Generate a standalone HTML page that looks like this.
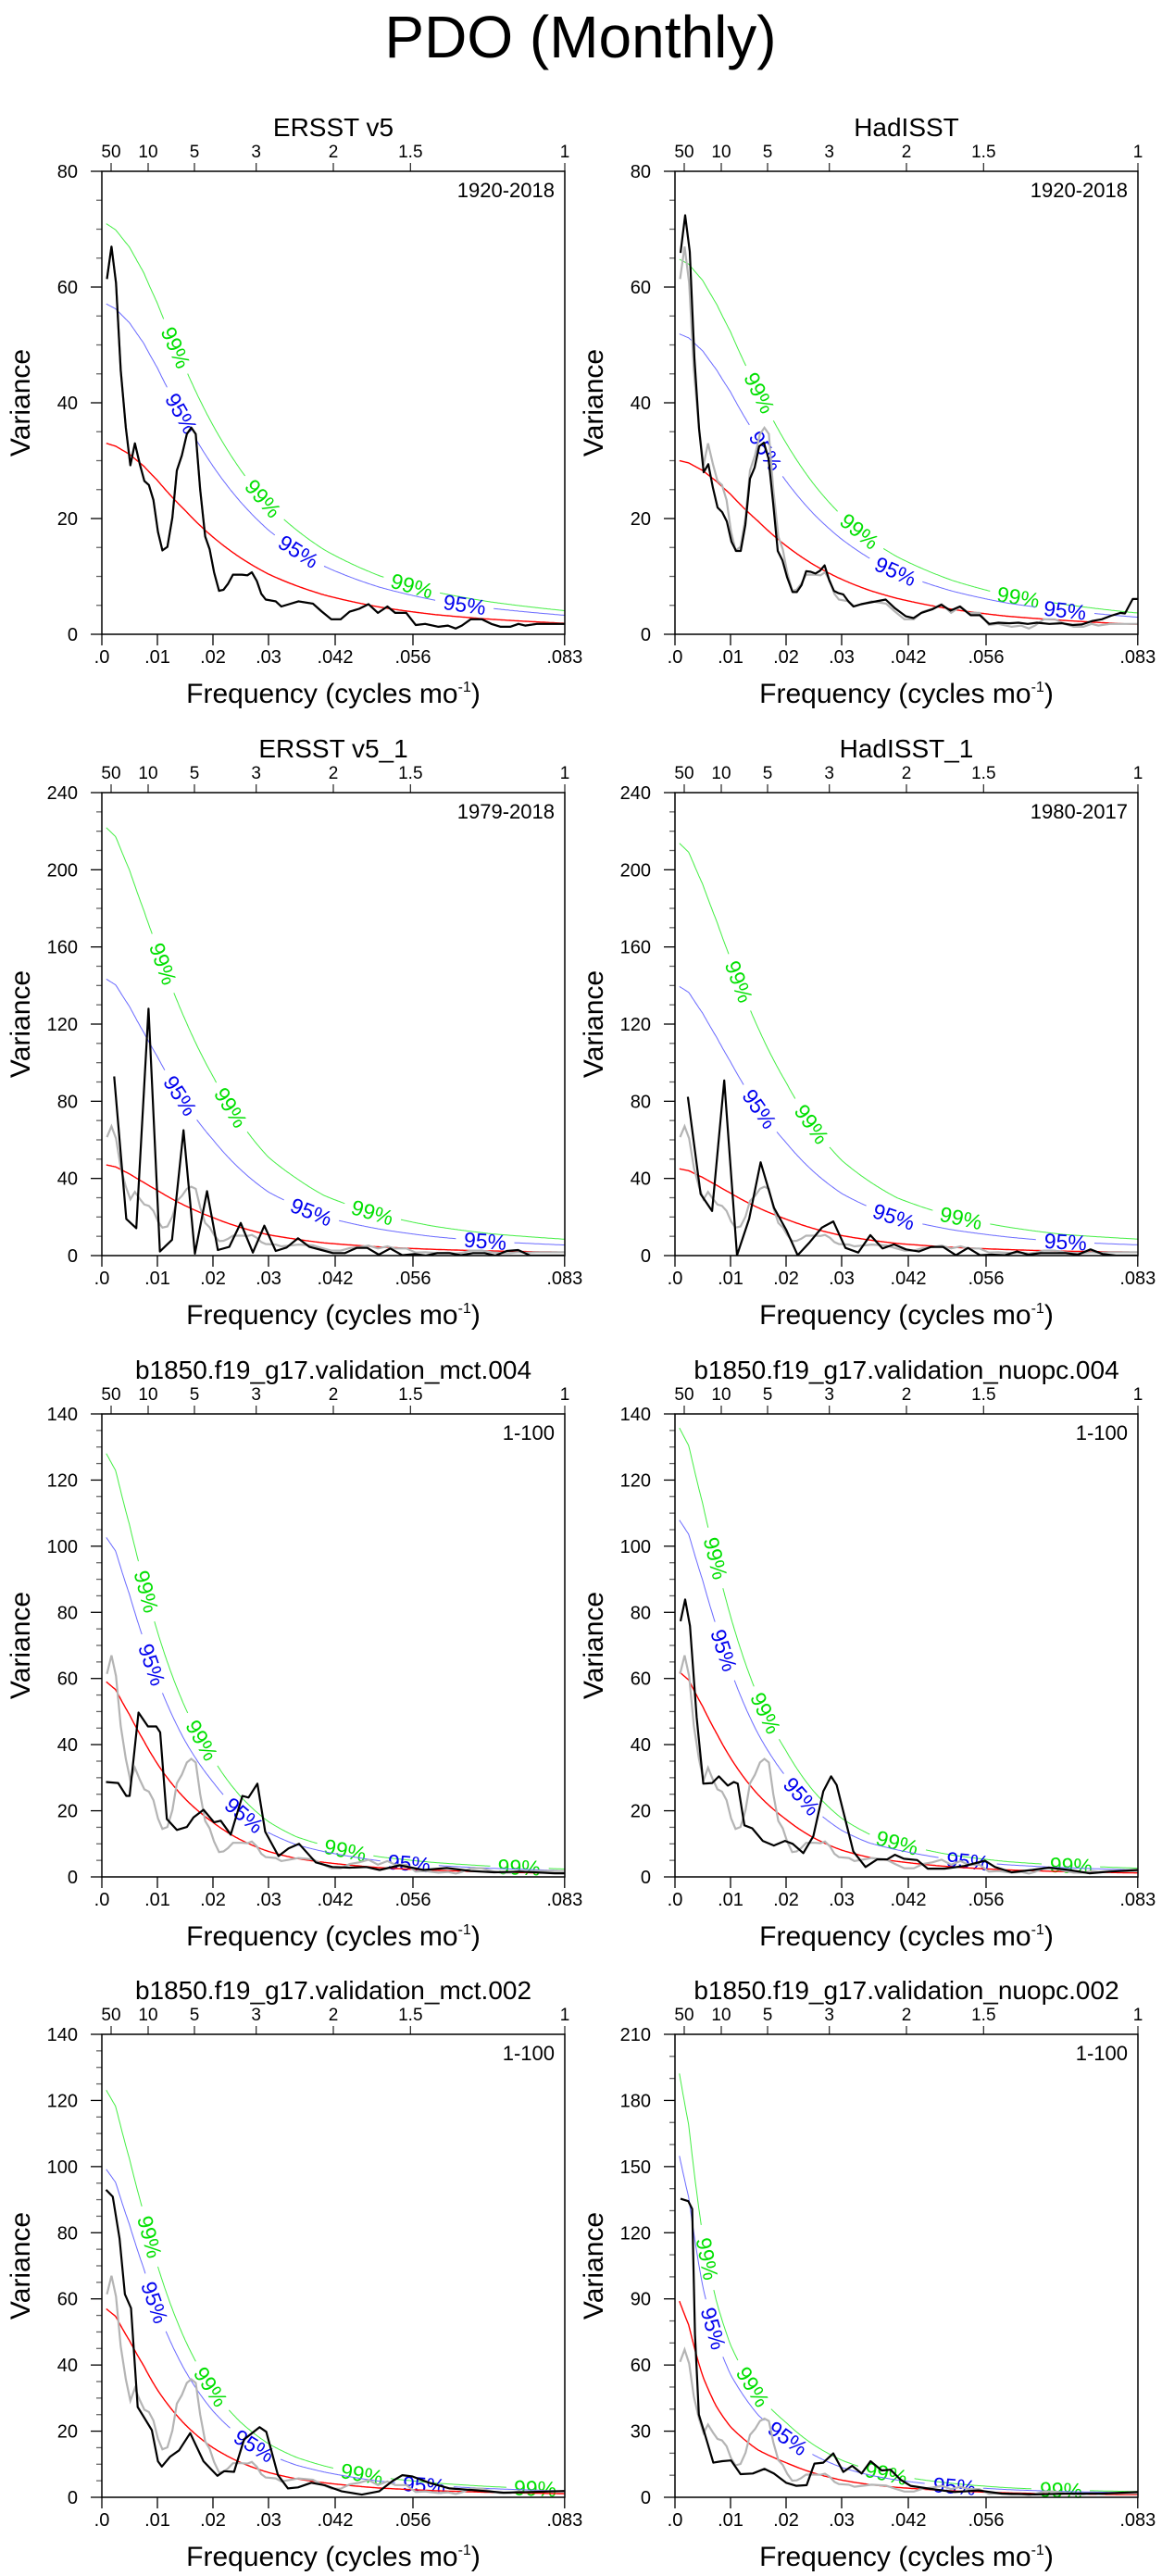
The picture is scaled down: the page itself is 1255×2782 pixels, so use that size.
<!DOCTYPE html>
<html><head><meta charset="utf-8"><title>PDO (Monthly)</title>
<style>
html,body{margin:0;padding:0;background:#fff;}
svg{display:block;font-family:"Liberation Sans",Arial,sans-serif;}
</style></head>
<body>
<svg id="chart" xmlns="http://www.w3.org/2000/svg" width="1255" height="2782" viewBox="0 0 1255 2782">
<text x="627" y="62" font-size="64" text-anchor="middle">PDO (Monthly)</text>
</svg>
<script>
// ---------- data ----------
const redFreq = [0.0008,0.0025,0.005,0.0075,0.01,0.015,0.02,0.025,0.03,0.035,0.04,0.05,0.06,0.07,0.0833];
const topPeriodLabels = ["50","10","5","3","2","1.5","1"];
const topPeriodYears = [50,10,5,3,2,1.5,1];
const bottomTickFreq = [0,0.01,0.02,0.03,0.042,0.056,0.0833];
const bottomTickLabels = [".0",".01",".02",".03",".042",".056",".083"];

const ersstFreq = [.00092,.00174,.00255,.0034,.00432,.00513,.00595,.00684,.00765,.00847,.00928,.0101,.0109,.0118,.0127,.0135,.0144,.0153,.0161,.0169,.0177,.0186,.0194,.0202,.0211,.0219,.0227,.0236,.0252,.0262,.027,.0279,.0287,.0295,.0313,.0323,.0337,.0354,.038,.0395,.0413,.043,.0446,.0463,.048,.0497,.0514,.0528,.0548,.0565,.0582,.0606,.0623,.0637,.0648,.0664,.0684,.0701,.0718,.0735,.075,.0762,.0783,.0833];
const ersstVar = [61.4,67,60.7,45.6,35.7,29.2,33,29.4,26.5,25.8,23.2,17.7,14.5,15.1,20.2,28.3,30.9,34.6,35.7,34.6,25,16.9,14.7,10.7,7.5,7.7,8.7,10.3,10.3,10.2,10.7,9.2,7,6,5.7,4.8,5.2,5.7,5.3,4,2.6,2.6,3.9,4.4,5.2,3.7,4.8,3.7,3.7,1.6,1.8,1.3,1.5,1,1.5,2.6,2.6,1.8,1.3,1.3,1.8,1.5,1.8,1.8];

const hadFreq = [.001,.00183,.00267,.0035,.00433,.00517,.006,.00683,.00767,.0085,.00933,.01017,.011,.01183,.01267,.0135,.01433,.01517,.016,.01683,.01767,.0185,.01933,.02017,.02117,.02194,.02278,.02361,.02444,.02528,.02611,.02694,.02778,.02861,.02944,.03028,.03128,.03211,.0335,.03572,.03794,.0396,.04156,.04294,.04433,.04628,.04794,.04961,.05128,.05322,.05489,.05656,.05822,.06017,.06183,.0635,.06517,.06739,.06961,.07156,.07322,.07517,.07683,.0785,.08017,.081,.0824,.0833];
const hadVar = [65.9,72.4,66.1,47.7,35.5,28,29.4,25.3,21.9,21.1,19.5,16,14.4,14.4,18.9,26.9,28.8,32.5,33.1,30.4,22.7,14.4,12.8,9.9,7.3,7.3,8.5,10.9,10.8,10.5,11,11.9,9.3,7.5,7.1,6.9,5.6,4.8,5.2,5.6,6,4.5,3.1,2.8,3.7,4.3,5.1,4.1,4.8,3.3,3.3,1.8,2,1.9,2,1.8,2,1.8,1.9,1.6,1.7,2.3,2.6,3.2,3.7,3.6,6.1,6.1];

const ersst1Freq = [.00222,.0044,.0062,.0084,.01045,.01263,.0147,.01675,.01893,.02088,.02293,.025,.02718,.02925,.0313,.03325,.0353,.03737,.03955,.0416,.04378,.04585,.04778,.04985,.05192,.05408,.05627,.05833,.0604,.06258,.06463,.06682,.06888,.07082,.07288,.07493,.07712,.0832];
const ersst1Var = [92.9,19,14.2,128,2.1,8.2,65,1,33.4,2.9,4.5,16.9,1.6,15.5,2.4,4.2,9,4.5,2.9,1.3,1.3,4,4,0.5,3.7,0.2,0.8,0,1.3,1.3,0.2,1.3,1.3,0,2.4,2.9,0,0];

const had1Freq = [.00232,.00462,.00668,.00887,.01117,.01335,.01542,.01783,.02002,.02208,.02425,.02643,.0285,.03068,.03298,.03517,.03735,.03942,.04158,.0439,.04608,.04825,.05057,.05275,.05492,.05698,.05942,.06158,.06365,.06583,.06813,.07032,.0725,.0748,.07698,.07942,.0833];
const had1Var = [82.3,31.9,23.1,90.8,0.2,19,48.4,24.7,13.4,0.2,6.9,14.5,17.7,4,1.6,10.6,3.7,5.8,3.2,2.1,4.5,4.5,0.2,4,0.2,0.5,0.2,2.1,0.5,1.3,1.3,1.3,0.5,3.2,0.8,0,0];

const mct004Freq = [.00075,.00293,.0044,.005,.0066,.0083,.0098,.0105,.0117,.0135,.0153,.0165,.0183,.0202,.0214,.0232,.0253,.0264,.028,.0294,.0318,.0336,.0355,.0385,.0415,.0446,.0476,.05,.0536,.0579,.0621,.0664,.0706,.0755,.0815,.0833];
const mct004Var = [28.7,28.4,24.5,24.5,49.7,45.5,45.5,43.7,17.5,14.2,15.1,18,20.3,16.5,17,12.8,24.5,24,28.2,13.7,6.3,8.6,10,4.4,3,2.8,3,2.1,3.5,2.1,2.7,1.8,1.4,1.6,1.1,1.1];

const nuopc004Freq = [.001,.00184,.0027,.0039,.0051,.0067,.0079,.0095,.0106,.0113,.0125,.0139,.0158,.0178,.0198,.0212,.0231,.0249,.0267,.0281,.0291,.0321,.0343,.0364,.0382,.0396,.0412,.0436,.0455,.0485,.0521,.0558,.0576,.0606,.0643,.0673,.0709,.0746,.0782,.0833];
const nuopc004Var = [77.3,83.9,75.9,48.3,28.2,28.4,30.4,27.6,28.7,28.2,15.6,14.7,10.9,9.5,10.9,10,7.2,12.3,25.9,30.4,27.8,7.7,3,5.3,5.3,6.7,5.5,5.1,2.5,2.5,3.3,4.9,3,1.4,2.1,2.8,2.1,1.1,1.6,2.1];

const mct002Freq = [.00075,.00197,.00318,.00415,.00525,.00645,.0078,.009,.0101,.0108,.0123,.0139,.0159,.0183,.0208,.022,.0238,.0256,.0284,.0296,.0317,.0335,.0353,.0377,.0402,.0432,.0468,.0499,.0523,.0541,.0559,.0589,.0626,.0674,.0723,.0771,.0833];
const mct002Var = [93,90.9,78.3,61.4,57.2,27.3,23.6,20.3,10.9,9.3,12.3,14.2,19.4,10.9,6.5,7.9,7.7,17.5,21.2,19.8,6.7,2.7,3,4.4,3.6,1.8,0.8,1.8,4.9,6.7,6.3,4.4,2.7,2.1,1.4,1.6,1.9];

const nuopc002Freq = [.001,.0024,.0031,.0036,.0043,.0055,.0069,.0085,.0101,.0118,.014,.0161,.0178,.02,.0218,.0237,.0251,.0267,.0285,.0303,.0319,.0336,.0352,.0372,.0388,.0406,.0424,.0461,.0503,.0546,.0588,.0648,.0709,.077,.0833];
const nuopc002Var = [135.4,134.3,130.8,73.9,37.5,27.6,15.7,16.4,16.7,10.5,10.8,12.9,10.8,6.6,5.2,5.5,15.3,15.7,19.9,11.5,14.3,10.8,16.4,12.2,12.5,8,5.2,3.8,2.4,3.1,1.7,1.3,1.7,1.7,2.4];

// red-noise (AR1) spectra, read at redFreq
const redErsst = [33,32.5,31.1,29.1,26.6,21.4,16.8,13.2,10.4,8.4,6.8,4.7,3.4,2.6,1.9];
const redHad = [30,29.6,28.3,26.4,24.2,19.5,15.3,12,9.5,7.6,6.2,4.3,3.1,2.4,1.7];
const redErsst1 = [47,46,42.3,38,33.8,25.9,19.7,14.6,10.8,8.5,6.6,4.5,3.2,2.4,1.8];
const redHad1 = [45,44,40.5,36.5,32.4,24.8,18.9,14,10.4,8.1,6.3,4.3,3.1,2.3,1.8];
const redMct004 = [59,56.6,49,41.3,34.2,23.6,16.5,11.2,7.7,5.6,4.4,2.8,2,1.5,1.1];
const redNuopc004 = [62,59.5,51.5,43.4,36,24.8,17.4,11.8,8.1,5.9,4.7,3,2.1,1.6,1.2];
const redMct002 = [57,54.7,47.3,39.9,32.5,22,15,10.5,7.5,5.6,4.4,2.8,2,1.5,1.1];
const redNuopc002 = [89,78,55,41,32,21.4,15.7,11,7.8,5.8,4.5,2.9,2,1.5,1.2];
// confidence multipliers [95%, 99%]
const ciErsst = [1.73,2.15];
const ciHad = [1.73,2.16];
const ciErsst1 = [3.05,4.72];
const ciHad1 = [3.1,4.75];
const ciMct004 = [1.74,2.17];
const ciNuopc004 = [1.74,2.19];
const ciMct002 = [1.74,2.16];
const ciNuopc002 = [1.74,2.16];
// label positions (frequency) along the confidence curves
const lab99Ersst = [.0133,.029,.0558];   const lab95Ersst = [.0143,.0354,.0653];
const lab99Had = [.0152,.0332,.0618];    const lab95Had = [.0163,.0397,.0702];
const lab99Ersst1 = [.011,.0232,.0487];  const lab95Ersst1 = [.0141,.0377,.069];
const lab99Had1 = [.0115,.0246,.0515];   const lab95Had1 = [.0152,.0394,.0703];
const lab99Mct004 = [.008,.018,.0438,.0751]; const lab95Mct004 = [.009,.0256,.0553];
const lab99Nuopc004 = [.0073,.0163,.04,.0713]; const lab95Nuopc004 = [.0088,.0228,.0527];
const lab99Mct002 = [.0086,.0196,.0468,.078]; const lab95Mct002 = [.0095,.0274,.058];
const lab99Nuopc002 = [.0058,.014,.038,.0695]; const lab95Nuopc002 = [.0069,.0203,.0503];

const panels = [
 {name:"ersst-v5",title:"ERSST v5",period:"1920-2018",col:0,row:0,ymax:80,major:20,minor:5,f:ersstFreq,v:ersstVar,red:redErsst,ci:ciErsst,l99:lab99Ersst,l95:lab95Ersst},
 {name:"hadisst",title:"HadISST",period:"1920-2018",col:1,row:0,ymax:80,major:20,minor:5,f:hadFreq,v:hadVar,red:redHad,ci:ciHad,l99:lab99Had,l95:lab95Had},
 {name:"ersst-v5-1",title:"ERSST v5_1",period:"1979-2018",col:0,row:1,ymax:240,major:40,minor:10,f:ersst1Freq,v:ersst1Var,red:redErsst1,ci:ciErsst1,l99:lab99Ersst1,l95:lab95Ersst1},
 {name:"hadisst-1",title:"HadISST_1",period:"1980-2017",col:1,row:1,ymax:240,major:40,minor:10,f:had1Freq,v:had1Var,red:redHad1,ci:ciHad1,l99:lab99Had1,l95:lab95Had1},
 {name:"mct-004",title:"b1850.f19_g17.validation_mct.004",period:"1-100",col:0,row:2,ymax:140,major:20,minor:5,f:mct004Freq,v:mct004Var,red:redMct004,ci:ciMct004,l99:lab99Mct004,l95:lab95Mct004},
 {name:"nuopc-004",title:"b1850.f19_g17.validation_nuopc.004",period:"1-100",col:1,row:2,ymax:140,major:20,minor:5,f:nuopc004Freq,v:nuopc004Var,red:redNuopc004,ci:ciNuopc004,l99:lab99Nuopc004,l95:lab95Nuopc004},
 {name:"mct-002",title:"b1850.f19_g17.validation_mct.002",period:"1-100",col:0,row:3,ymax:140,major:20,minor:5,f:mct002Freq,v:mct002Var,red:redMct002,ci:ciMct002,l99:lab99Mct002,l95:lab95Mct002},
 {name:"nuopc-002",title:"b1850.f19_g17.validation_nuopc.002",period:"1-100",col:1,row:3,ymax:210,major:30,minor:10,f:nuopc002Freq,v:nuopc002Var,red:redNuopc002,ci:ciNuopc002,l99:lab99Nuopc002,l95:lab95Nuopc002}
];

// ---------- layout ----------
const colLeft = [110,729];
const rowTop = [185,856,1527,2197];
const W = 500, H = 500, FMAX = 1/12;
const NS = "http://www.w3.org/2000/svg";
const svg = document.getElementById("chart");

function mk(tag, attrs, parent){
  const e = document.createElementNS(NS, tag);
  for (const k in attrs) e.setAttribute(k, attrs[k]);
  (parent||svg).appendChild(e);
  return e;
}
function interpRed(red, f){
  if (f <= redFreq[0]) return red[0];
  for (let i=1;i<redFreq.length;i++){
    if (f <= redFreq[i]){
      const t=(f-redFreq[i-1])/(redFreq[i]-redFreq[i-1]);
      return Math.exp(Math.log(red[i-1])*(1-t)+Math.log(red[i])*t);
    }
  }
  return red[red.length-1];
}

panels.forEach(p=>{
  const L = colLeft[p.col], T = rowTop[p.row];
  const xs = f => L + f/FMAX*W;
  const ys = v => T + H - v/p.ymax*H;
  const g = mk("g", {});
  
  

  const cp = mk("clipPath", {id:"clip-"+p.name}, g);
  mk("rect", {x:L, y:T, width:W, height:H}, cp);

  // title
  const tt = mk("text", {x:L+W/2, y:T-38, "font-size":28, "text-anchor":"middle"}, g);
  tt.textContent = p.title;
  
  

  // period label
  const pl = mk("text", {x:L+W-11, y:T+28, "font-size":22, "text-anchor":"end"}, g);
  pl.textContent = p.period;
  
  

  // y ticks
  for (let v=0; v<=p.ymax+1e-9; v+=p.minor){
    const isMajor = Math.abs(v/p.major - Math.round(v/p.major))<1e-6;
    const tk = mk("line", {x1:L-(isMajor?12:6), x2:L, y1:ys(v), y2:ys(v), stroke:isMajor?"#000":"#666", "stroke-width":1.3}, g);
    
    
    if (isMajor){
      const tl = mk("text", {x:L-26, y:ys(v)+7, "font-size":20, "text-anchor":"end"}, g);
      tl.textContent = String(Math.round(v));
      
      
    }
  }
  // bottom ticks
  bottomTickFreq.forEach((f,i)=>{
    const tk = mk("line", {x1:xs(f), x2:xs(f), y1:T+H, y2:T+H+12, stroke:"#000", "stroke-width":1.3}, g);
    
    
    const tl = mk("text", {x:xs(f), y:T+H+31, "font-size":20, "text-anchor":"middle"}, g);
    tl.textContent = bottomTickLabels[i];
    
    
  });
  // top period ticks
  topPeriodYears.forEach((yr,i)=>{
    const f = 1/(12*yr);
    const tk = mk("line", {x1:xs(f), x2:xs(f), y1:T-9, y2:T, stroke:"#333", "stroke-width":1.3}, g);
    
    
    const tl = mk("text", {x:xs(f), y:T-15, "font-size":19, "text-anchor":"middle"}, g);
    tl.textContent = topPeriodLabels[i];
    
    
  });
  // axis titles
  const xt = mk("text", {x:L+W/2, y:T+H+74, "font-size":30, "text-anchor":"middle"}, g);
  xt.innerHTML = 'Frequency (cycles mo<tspan font-size="16" dy="-12">-1</tspan><tspan dy="12">)</tspan>';
  
  
  const yt = mk("text", {x:0, y:0, "font-size":30, "text-anchor":"middle", transform:`translate(${L-78},${T+H/2}) rotate(-90)`}, g);
  yt.textContent = "Variance";
  
  

  // confidence and red noise curves
  const N = 400;
  const curve = mult => {
    const pts=[];
    for (let i=0;i<=N;i++){
      const f = redFreq[0] + (FMAX-redFreq[0])*i/N;
      pts.push([xs(f), ys(interpRed(p.red,f)*mult)]);
    }
    return pts;
  };
  const drawCurve = (mult, color, width, labels, labText, lname) => {
    const pts = curve(mult);
    const centers = labels.map(f=>{
      const a=[xs(f), ys(interpRed(p.red,f)*mult)];
      const b1=[xs(f-0.001), ys(interpRed(p.red,f-0.001)*mult)];
      const b2=[xs(f+0.001), ys(interpRed(p.red,f+0.001)*mult)];
      return {c:a, ang:Math.atan2(b2[1]-b1[1], b2[0]-b1[0])*180/Math.PI};
    });
    let d="", pen=false;
    pts.forEach(pt=>{
      const hidden = centers.some(o=>Math.hypot(pt[0]-o.c[0],pt[1]-o.c[1])<31);
      if (hidden){ pen=false; return; }
      d += (pen?"L":"M") + pt[0].toFixed(1)+","+pt[1].toFixed(1);
      pen=true;
    });
    const path = mk("path", {d:d, fill:"none", stroke:color, "stroke-width":width}, g);
    
    
    centers.forEach(o=>{
      const t = mk("text", {x:0, y:0, "font-size":23, "text-anchor":"middle", "dominant-baseline":"central", fill:labText.color, transform:`translate(${o.c[0].toFixed(1)},${o.c[1].toFixed(1)}) rotate(${o.ang.toFixed(1)})`}, g);
      t.textContent = labText.text;
      
      
    });
  };
  drawCurve(p.ci[1], "#44ee44", 1, p.l99, {text:"99%", color:"#00e000"}, "ci-99-curve");
  drawCurve(p.ci[0], "#6a6aff", 1, p.l95, {text:"95%", color:"#0000ee"}, "ci-95-curve");
  drawCurve(1, "#ff0000", 1.4, [], {text:"",color:"#f00"}, "red-noise-curve");

  // gray reference (ERSST v5)
  const gray = mk("polyline", {points: ersstFreq.map((f,i)=>xs(f).toFixed(1)+","+ys(ersstVar[i]).toFixed(1)).join(" "), fill:"none", stroke:"#b4b4b4", "stroke-width":2.2, "clip-path":`url(#clip-${p.name})`}, g);
  
  

  // black spectrum
  const blk = mk("polyline", {points: p.f.map((f,i)=>xs(f).toFixed(1)+","+ys(p.v[i]).toFixed(1)).join(" "), fill:"none", stroke:"#000", "stroke-width":2.2, "stroke-linejoin":"round", "clip-path":`url(#clip-${p.name})`}, g);
  
  

  // frame
  const fr = mk("rect", {x:L, y:T, width:W, height:H, fill:"none", stroke:"#000", "stroke-width":1.5}, g);
  
  
});
</script>
</body></html>
